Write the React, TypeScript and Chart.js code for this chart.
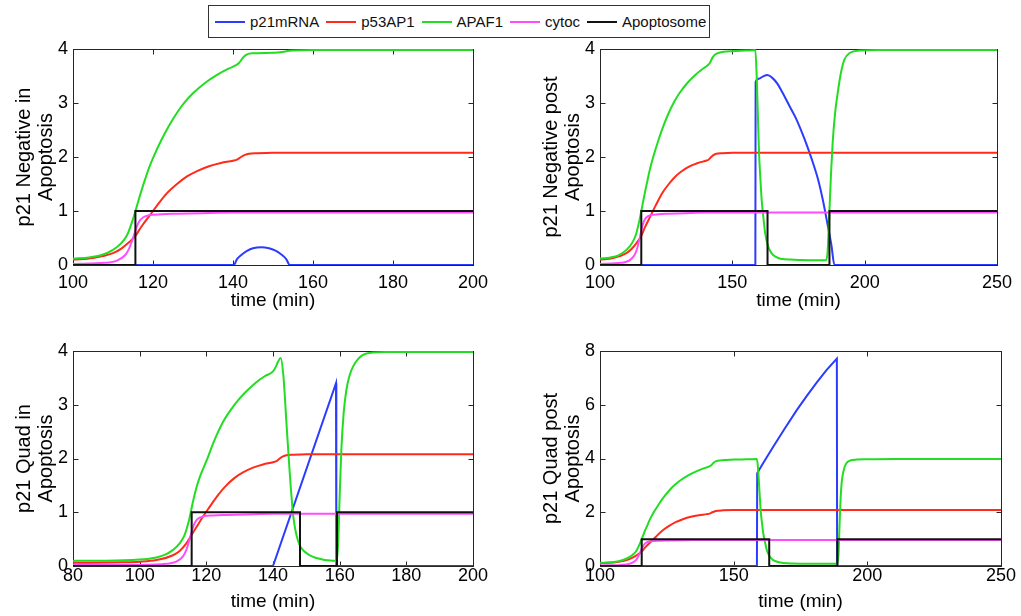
import React, { useEffect, useRef } from "react";
import { Chart, registerables } from "chart.js";
Chart.register(...registerables);

type Pt = [number, number];

// ---------- Series names ----------
const SERIES_NAMES = ["p21mRNA", "p53AP1", "APAF1", "cytoc", "Apoptosome"];

// ---------- Panel 1: p21 Negative in Apoptosis ----------
const NEG_IN_P21MRNA: Pt[] = [[100,0],[140.2,0],[141,0.11],[142,0.18],[143.5,0.26],[145,0.31],[147.1,0.33],[149,0.31],[150.5,0.27],[152,0.2],[153.3,0.11],[154.2,0],[200,0]];
const NEG_IN_P53AP1: Pt[] = [[100,0.1],[105,0.13],[110,0.22],[112,0.3],[114,0.42],[115.5,0.53],[117,0.7],[119,0.9],[121,1.1],[123.5,1.33],[126,1.5],[128.5,1.64],[131,1.74],[134,1.83],[137,1.89],[140,1.93],[141,1.95],[142,2.0],[143,2.04],[144,2.06],[146,2.07],[150,2.08],[200,2.08]];
const NEG_IN_APAF1: Pt[] = [[100,0.12],[104,0.14],[107,0.18],[110,0.28],[112,0.4],[113.5,0.55],[115,0.85],[116,1.1],[117,1.35],[118,1.58],[119,1.8],[120,1.98],[122,2.3],[124,2.58],[126,2.82],[128,3.02],[130,3.18],[133,3.37],[136,3.52],[139,3.64],[140.5,3.69],[141.5,3.74],[142.5,3.84],[143.5,3.9],[145,3.92],[150,3.93],[155,3.97],[160,3.98],[200,3.98]];
const NEG_IN_CYTOC: Pt[] = [[100,0.02],[108,0.04],[111,0.08],[113,0.18],[114,0.3],[115,0.5],[115.8,0.68],[116.5,0.8],[117.5,0.88],[119,0.92],[122,0.94],[126,0.95],[132,0.96],[140,0.97],[200,0.97]];
const NEG_IN_APOPTOSOME: Pt[] = [[100,0],[115.6,0],[115.6,1],[200,1]];

// ---------- Panel 2: p21 Negative post Apoptosis ----------
const NEG_POST_P21MRNA: Pt[] = [[100,0],[158.7,0],[158.8,3.39],[160,3.45],[161.5,3.49],[163.3,3.52],[165,3.47],[167,3.36],[169,3.19],[171.1,2.99],[174,2.72],[177.3,2.33],[180,1.96],[182.3,1.6],[184.3,1.18],[186.1,0.72],[187.4,0.38],[188.6,0],[250,0]];
const NEG_POST_P53AP1: Pt[] = [[100,0.1],[105,0.13],[110,0.22],[112,0.3],[114,0.42],[115.5,0.53],[117,0.7],[119,0.9],[121,1.1],[123.5,1.33],[126,1.5],[128.5,1.64],[131,1.74],[134,1.83],[137,1.89],[140,1.93],[141,1.95],[142,2.0],[143,2.04],[144,2.06],[146,2.07],[150,2.08],[250,2.08]];
const NEG_POST_APAF1: Pt[] = [[100,0.12],[104,0.14],[107,0.18],[110,0.28],[112,0.4],[113.5,0.55],[115,0.85],[116,1.1],[117,1.35],[118,1.58],[119,1.8],[120,1.98],[122,2.3],[124,2.58],[126,2.82],[128,3.02],[130,3.18],[133,3.37],[136,3.52],[139,3.64],[140.5,3.69],[141.5,3.74],[142.5,3.84],[143.5,3.9],[145,3.93],[150,3.96],[155,3.97],[158.7,3.98],[159.2,3.5],[159.7,2.7],[160.1,2.07],[160.6,1.6],[161.1,1.2],[161.8,0.85],[162.4,0.59],[163.5,0.35],[164.8,0.22],[166.5,0.15],[168.6,0.11],[172,0.1],[180,0.09],[185.4,0.09],[186,0.25],[186.7,1.02],[187.3,1.7],[187.9,2.26],[188.8,2.8],[189.8,3.18],[191,3.55],[192.3,3.8],[194.5,3.93],[198,3.97],[205,3.98],[250,3.98]];
const NEG_POST_CYTOC: Pt[] = [[100,0.02],[108,0.04],[111,0.08],[113,0.18],[114,0.3],[115,0.5],[115.8,0.68],[116.5,0.8],[117.5,0.88],[119,0.92],[122,0.94],[126,0.95],[132,0.96],[140,0.97],[250,0.97]];
const NEG_POST_APOPTOSOME: Pt[] = [[100,0],[115.6,0],[115.6,1],[163.3,1],[163.3,0],[186.7,0],[186.7,1],[250,1]];

// ---------- Panel 3: p21 Quad in Apoptosis ----------
const QUAD_IN_P21MRNA: Pt[] = [[80,0],[140,0],[158.9,3.4],[159,0],[200,0]];
const QUAD_IN_P53AP1: Pt[] = [[80,0.06],[95,0.07],[100,0.08],[105,0.11],[110,0.2],[112,0.28],[114,0.42],[115.6,0.58],[117,0.72],[119,0.92],[121,1.1],[123.5,1.32],[126,1.5],[128.5,1.64],[131,1.74],[134,1.83],[137,1.89],[140,1.93],[141,1.95],[142,2.0],[143,2.04],[144,2.06],[146,2.07],[150,2.08],[200,2.08]];
const QUAD_IN_APAF1: Pt[] = [[80,0.1],[90,0.1],[100,0.12],[105,0.16],[108,0.22],[110,0.3],[112,0.42],[113.5,0.58],[114.8,0.85],[116,1.2],[117,1.45],[118,1.65],[120,1.95],[122.5,2.35],[125,2.68],[127.5,2.92],[130,3.12],[132.5,3.28],[135,3.42],[137.5,3.53],[140,3.62],[140.8,3.7],[141.5,3.8],[142.3,3.87],[143.1,3.55],[144.1,2.6],[145.1,1.66],[146.1,0.92],[147.6,0.45],[150,0.24],[153,0.15],[158,0.1],[159.2,0.1],[159.6,0.5],[160,1.3],[160.5,2.16],[161.2,2.85],[162,3.27],[163,3.55],[164,3.71],[165.5,3.85],[167,3.93],[170,3.97],[174,3.98],[200,3.98]];
const QUAD_IN_CYTOC: Pt[] = [[80,0.02],[100,0.02],[108,0.04],[111,0.08],[113,0.18],[114,0.3],[115,0.5],[115.8,0.68],[116.5,0.8],[117.5,0.88],[119,0.92],[122,0.94],[126,0.95],[132,0.96],[140,0.97],[200,0.97]];
const QUAD_IN_APOPTOSOME: Pt[] = [[80,0],[115.6,0],[115.6,1],[148.1,1],[148.1,0],[159.2,0],[159.2,1],[200,1]];

// ---------- Panel 4: p21 Quad post Apoptosis ----------
const QUAD_POST_P21MRNA: Pt[] = [[100,0],[158.7,0],[158.8,3.45],[161,3.82],[164.8,4.44],[169,5.1],[173.6,5.8],[177.5,6.35],[181.1,6.83],[184.8,7.3],[188.6,7.72],[188.7,0],[250,0]];
const QUAD_POST_P53AP1: Pt[] = [[100,0.1],[105,0.13],[110,0.22],[112,0.3],[114,0.42],[115.5,0.53],[117,0.7],[119,0.9],[121,1.1],[123.5,1.33],[126,1.5],[128.5,1.64],[131,1.74],[134,1.83],[137,1.89],[140,1.93],[141,1.95],[142,2.0],[143,2.04],[144,2.06],[146,2.07],[150,2.08],[250,2.08]];
const QUAD_POST_APAF1: Pt[] = [[100,0.12],[104,0.14],[107,0.18],[110,0.28],[112,0.4],[113.5,0.55],[115,0.85],[116,1.1],[117,1.35],[118,1.58],[119,1.8],[120,1.98],[122,2.3],[124,2.58],[126,2.82],[128,3.02],[130,3.18],[133,3.37],[136,3.52],[139,3.64],[140.5,3.69],[141.5,3.74],[142.5,3.84],[143.5,3.9],[145,3.93],[150,3.96],[155,3.97],[158.7,3.98],[159.2,3.5],[159.7,2.7],[160.1,2.07],[160.6,1.6],[161.1,1.2],[161.8,0.85],[162.4,0.59],[163.5,0.35],[164.8,0.22],[166.5,0.15],[168.6,0.11],[172,0.09],[180,0.08],[188.8,0.08],[189.2,0.4],[189.6,1.5],[190,2.5],[190.4,3.1],[191,3.5],[191.9,3.78],[193.5,3.92],[196,3.96],[200,3.97],[210,3.98],[250,3.98]];
const QUAD_POST_CYTOC: Pt[] = [[100,0.02],[108,0.04],[111,0.08],[113,0.18],[114,0.3],[115,0.5],[115.8,0.68],[116.5,0.8],[117.5,0.88],[119,0.92],[122,0.94],[126,0.95],[132,0.96],[140,0.97],[250,0.97]];
const QUAD_POST_APOPTOSOME: Pt[] = [[100,0],[115.6,0],[115.6,1],[163.3,1],[163.3,0],[188.8,0],[188.8,1],[250,1]];

// ---------- Tick labels ----------
const X_TICKS_NEG_IN = [100, 120, 140, 160, 180, 200];
const X_TICKS_NEG_POST = [100, 150, 200, 250];
const X_TICKS_QUAD_IN = [80, 100, 120, 140, 160, 180, 200];
const X_TICKS_QUAD_POST = [100, 150, 200, 250];
const Y_TICKS_0_4 = [0, 1, 2, 3, 4];
const Y_TICKS_0_8 = [0, 2, 4, 6, 8];

const X_TITLE = "time (min)";

// ---------- Style ----------
const FONT = '"Liberation Sans", Arial, Helvetica, sans-serif';
const COLORS = ["#2a3cff", "#ff2a1a", "#22dd22", "#ff4cff", "#111111"];

interface PanelDef {
  yTitle: string[];
  xTicks: number[];
  yTicks: number[];
  series: Pt[][];
  smoothP21: boolean;
  left: number;
  top: number;
  width: number;
  height: number;
  padTop: number;
  padRight: number;
  xLabelPad: number;
}

const PANELS: PanelDef[] = [
  { yTitle: ["p21 Negative in", "Apoptosis"], xTicks: X_TICKS_NEG_IN, yTicks: Y_TICKS_0_4,
    series: [NEG_IN_P21MRNA, NEG_IN_P53AP1, NEG_IN_APAF1, NEG_IN_CYTOC, NEG_IN_APOPTOSOME], smoothP21: true,
    left: 0, top: 30, width: 500, height: 282, padTop: 19, padRight: 27, xLabelPad: 9 },
  { yTitle: ["p21 Negative post", "Apoptosis"], xTicks: X_TICKS_NEG_POST, yTicks: Y_TICKS_0_4,
    series: [NEG_POST_P21MRNA, NEG_POST_P53AP1, NEG_POST_APAF1, NEG_POST_CYTOC, NEG_POST_APOPTOSOME], smoothP21: true,
    left: 527, top: 30, width: 494, height: 282, padTop: 19, padRight: 20, xLabelPad: 9 },
  { yTitle: ["p21 Quad in", "Apoptosis"], xTicks: X_TICKS_QUAD_IN, yTicks: Y_TICKS_0_4,
    series: [QUAD_IN_P21MRNA, QUAD_IN_P53AP1, QUAD_IN_APAF1, QUAD_IN_CYTOC, QUAD_IN_APOPTOSOME], smoothP21: false,
    left: 0, top: 330, width: 500, height: 283, padTop: 21, padRight: 27, xLabelPad: 1 },
  { yTitle: ["p21 Quad post", "Apoptosis"], xTicks: X_TICKS_QUAD_POST, yTicks: Y_TICKS_0_8,
    series: [QUAD_POST_P21MRNA, QUAD_POST_P53AP1, QUAD_POST_APAF1, QUAD_POST_CYTOC, QUAD_POST_APOPTOSOME], smoothP21: false,
    left: 527, top: 330, width: 494, height: 283, padTop: 21, padRight: 20, xLabelPad: 1 },
];

const framePlugin = {
  id: "matlabFrame",
  beforeDatasetsDraw(chart: any) {
    const { ctx, chartArea: a, scales } = chart;
    const L = Math.round(a.left) + 0.5, R = Math.round(a.right) + 0.5;
    const T = Math.round(a.top) + 0.5, B = Math.round(a.bottom) + 0.5;
    const tl = 5;
    ctx.save();
    ctx.strokeStyle = "#262626";
    ctx.lineWidth = 1;
    ctx.strokeRect(L, T, R - L, B - T);
    ctx.beginPath();
    scales.x.ticks.forEach((t: any) => {
      const px = Math.round(scales.x.getPixelForValue(t.value)) + 0.5;
      ctx.moveTo(px, B); ctx.lineTo(px, B - tl);
      ctx.moveTo(px, T); ctx.lineTo(px, T + tl);
    });
    scales.y.ticks.forEach((t: any) => {
      const py = Math.round(scales.y.getPixelForValue(t.value)) + 0.5;
      ctx.moveTo(L, py); ctx.lineTo(L + tl, py);
      ctx.moveTo(R, py); ctx.lineTo(R - tl, py);
    });
    ctx.stroke();
    ctx.restore();
  },
};

function Panel({ def }: { def: PanelDef }) {
  const ref = useRef<HTMLCanvasElement | null>(null);
  useEffect(() => {
    if (!ref.current) return;
    const order = [4, 3, 2, 1, 0]; // Apoptosome drawn on top
    const datasets = order.map((i) => ({
      label: SERIES_NAMES[i],
      data: def.series[i].map(([x, y]) => ({ x, y })),
      borderColor: COLORS[i],
      backgroundColor: COLORS[i],
      borderWidth: 2,
      pointRadius: 0,
      fill: false,
      tension: 0,
      cubicInterpolationMode: i === 4 || (i === 0 && !def.smoothP21) ? "default" : "monotone",
    }));
    const xMin = def.xTicks[0], xMax = def.xTicks[def.xTicks.length - 1];
    const yMin = def.yTicks[0], yMax = def.yTicks[def.yTicks.length - 1];
    const chart = new Chart(ref.current, {
      type: "line",
      data: { datasets } as any,
      plugins: [framePlugin],
      options: {
        animation: false,
        responsive: false,
        maintainAspectRatio: false,
        events: [],
        layout: { padding: { left: 0, right: def.padRight, top: def.padTop, bottom: 0 } },
        plugins: { legend: { display: false }, tooltip: { enabled: false } },
        scales: {
          x: {
            type: "linear",
            min: xMin,
            max: xMax,
            afterBuildTicks: (s: any) => { s.ticks = def.xTicks.map((v) => ({ value: v })); },
            afterFit: (s: any) => { s.height = 47; },
            grid: { display: false, drawTicks: false },
            border: { display: false },
            ticks: { autoSkip: false, maxRotation: 0, padding: def.xLabelPad, color: "#000",
              font: { family: FONT, size: 18, lineHeight: 1 } },
            title: { display: true, text: X_TITLE, color: "#000",
              font: { family: FONT, size: 19, lineHeight: 1.15 }, padding: { top: 0, bottom: 0 } },
          },
          y: {
            type: "linear",
            min: yMin,
            max: yMax,
            afterBuildTicks: (s: any) => { s.ticks = def.yTicks.map((v) => ({ value: v })); },
            afterFit: (s: any) => { s.width = 73; },
            grid: { display: false, drawTicks: false },
            border: { display: false },
            ticks: { autoSkip: false, padding: 5, color: "#000",
              font: { family: FONT, size: 18, lineHeight: 1 } },
            title: { display: true, text: def.yTitle, color: "#000",
              font: { family: FONT, size: 20, lineHeight: 1.1 }, padding: { top: 13, bottom: 0 } },
          },
        },
      } as any,
    });
    return () => chart.destroy();
  }, [def]);
  return (
    <canvas
      ref={ref}
      width={def.width}
      height={def.height}
      style={{ position: "absolute", left: def.left, top: def.top, width: def.width, height: def.height }}
    />
  );
}

function Legend() {
  return (
    <div
      style={{
        position: "absolute", left: 208, top: 5, width: 502, height: 33, boxSizing: "border-box",
        border: "1px solid #333", background: "#fff", display: "flex", alignItems: "center",
        paddingLeft: 6, gap: 7, fontFamily: FONT, fontSize: 15, color: "#111",
      }}
    >
      {SERIES_NAMES.map((n, i) => (
        <div key={n} style={{ display: "flex", alignItems: "center" }}>
          <div style={{ width: 30, height: 2, background: COLORS[i], marginRight: 5 }} />
          <span>{n}</span>
        </div>
      ))}
    </div>
  );
}

export default function App() {
  return (
    <div style={{ position: "absolute", left: 0, top: 0, width: 1021, height: 616, background: "#fff", overflow: "hidden" }}>
      {PANELS.map((p, i) => (
        <Panel key={i} def={p} />
      ))}
      <Legend />
    </div>
  );
}
